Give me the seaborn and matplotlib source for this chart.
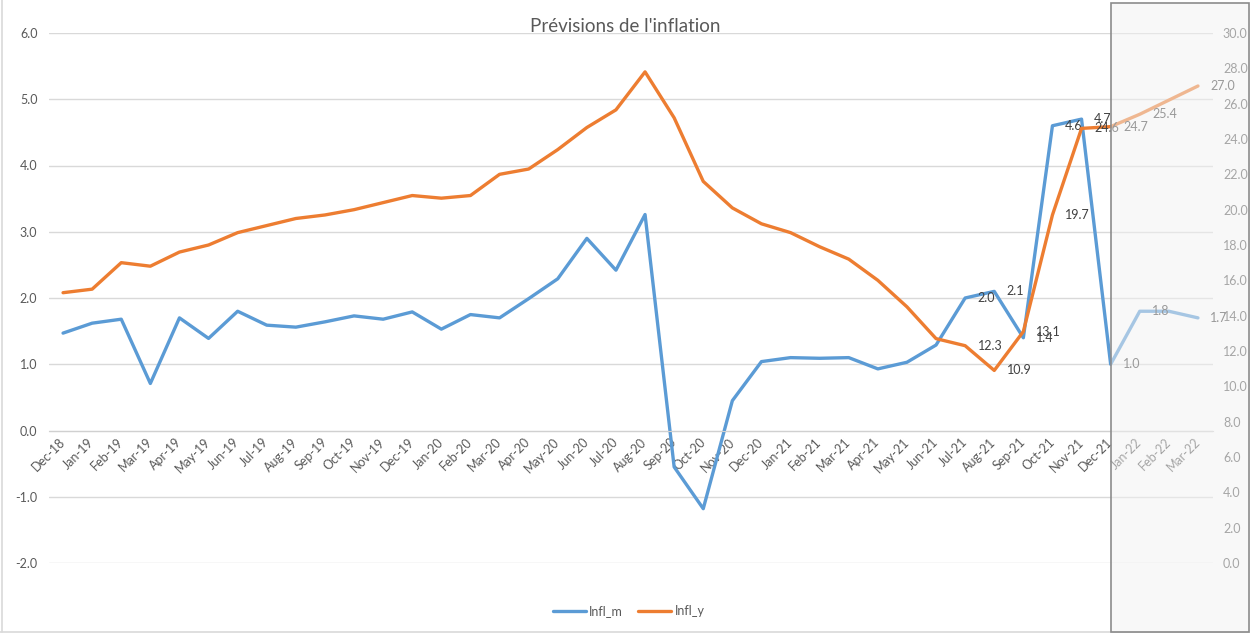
import numpy as np
import pandas as pd
import seaborn as sns
import matplotlib.pyplot as plt
from matplotlib.patches import Rectangle
from matplotlib.lines import Line2D

months = ['Dec-18', 'Jan-19', 'Feb-19', 'Mar-19', 'Apr-19', 'May-19', 'Jun-19', 'Jul-19',
          'Aug-19', 'Sep-19', 'Oct-19', 'Nov-19', 'Dec-19', 'Jan-20', 'Feb-20', 'Mar-20',
          'Apr-20', 'May-20', 'Jun-20', 'Jul-20', 'Aug-20', 'Sep-20', 'Oct-20', 'Nov-20',
          'Dec-20', 'Jan-21', 'Feb-21', 'Mar-21', 'Apr-21', 'May-21', 'Jun-21', 'Jul-21',
          'Aug-21', 'Sep-21', 'Oct-21', 'Nov-21', 'Dec-21', 'Jan-22', 'Feb-22', 'Mar-22']
infl_m = [1.47, 1.62, 1.68, 0.71, 1.70, 1.39, 1.80, 1.59, 1.56, 1.64, 1.73, 1.68, 1.79,
          1.53, 1.75, 1.70, 1.99, 2.29, 2.90, 2.42, 3.26, -0.55, -1.18, 0.45, 1.04,
          1.10, 1.09, 1.10, 0.93, 1.03, 1.29, 2.0, 2.1, 1.4, 4.6, 4.7, 1.0,
          1.8, 1.8, 1.7]
infl_y = [15.3, 15.5, 17.0, 16.8, 17.6, 18.0, 18.7, 19.1, 19.5, 19.7, 20.0, 20.4, 20.8,
          20.65, 20.8, 22.0, 22.3, 23.4, 24.65, 25.65, 27.8, 25.2, 21.6, 20.1, 19.2,
          18.7, 17.9, 17.2, 16.0, 14.5, 12.7, 12.3, 10.9, 13.1, 19.7, 24.6, 24.7,
          25.4, 26.2, 27.0]
labeled = ['Jul-21', 'Aug-21', 'Sep-21', 'Oct-21', 'Nov-21', 'Dec-21', 'Jan-22', 'Mar-22']

df = pd.DataFrame({'month': months, 'Infl_m': infl_m, 'Infl_y': infl_y})
df['pos'] = np.arange(len(df))

blue = '#5B9BD5'
orange = '#ED7D31'
grey_txt = '#595959'

sns.set_style('white')
plt.rcParams['font.family'] = ['Lato', 'DejaVu Sans']

W, H = 1250, 635
fig = plt.figure(figsize=(12.5, 6.35), dpi=100)
ax = fig.add_axes([48.5 / W, 1 - 563 / H, (1212.5 - 48.5) / W, (563 - 33) / H])
ax2 = ax.twinx()

sns.lineplot(data=df, x='pos', y='Infl_m', ax=ax, color=blue, lw=2.4)
sns.lineplot(data=df, x='pos', y='Infl_y', ax=ax2, color=orange, lw=2.4)

# axes
ax.set_xlim(-0.5, len(months) - 0.5)
ax.set_ylim(-2, 6)
ax.set_yticks(np.arange(-2, 6.1, 1))
ax.set_yticklabels([f'{v:.1f}' for v in np.arange(-2, 6.1, 1)])
ax2.set_ylim(0, 30)
ax2.set_yticks(np.arange(0, 30.1, 2))
ax2.set_yticklabels([f'{v:.1f}' for v in np.arange(0, 30.1, 2)])
ax.set_xticks(df['pos'])
ax.set_xticks(np.arange(-0.5, len(months), 1), minor=True)
ax.set_xticklabels(months)
ax.set_xlabel('')
ax.set_ylabel('')
ax2.set_ylabel('')

ax.grid(axis='y', color='#D9D9D9', lw=1)
ax.set_axisbelow(True)
for s in ['left', 'right', 'top']:
    ax.spines[s].set_visible(False)
for s in ['left', 'right', 'top', 'bottom']:
    ax2.spines[s].set_visible(False)
ax.spines['bottom'].set_position(('data', 0))
ax.spines['bottom'].set_color('#D0D0D0')

ax.tick_params(axis='x', which='major', length=0, pad=7, labelsize=9, labelcolor=grey_txt)
ax.tick_params(axis='x', which='minor', length=5, color='#D0D0D0', direction='out')
ax.tick_params(axis='y', length=0, pad=8, labelsize=9, labelcolor=grey_txt)
ax2.tick_params(axis='y', length=0, pad=7.5, labelsize=9, labelcolor=grey_txt)
for lab in ax.get_xticklabels():
    lab.set_rotation(45)
    lab.set_ha('right')
    lab.set_va('center')
    lab.set_rotation_mode('anchor')

# data labels
for _, r in df[df['month'].isin(labeled)].iterrows():
    ax.annotate(f"{r['Infl_m']:.1f}", (r['pos'], r['Infl_m']), xytext=(9, 0),
                textcoords='offset points', ha='left', va='center', fontsize=9, color='#404040')
    ax2.annotate(f"{r['Infl_y']:.1f}", (r['pos'], r['Infl_y']), xytext=(9, 0),
                 textcoords='offset points', ha='left', va='center', fontsize=9, color='#404040')

fig.text(0.5, 1 - 27 / H, "Prévisions de l'inflation", ha='center', va='center',
         fontsize=13.5, color=grey_txt)

handles = [Line2D([], [], color=blue, lw=2.4), Line2D([], [], color=orange, lw=2.4)]
leg = fig.legend(handles, ['Infl_m', 'Infl_y'], loc='center', bbox_to_anchor=(0.503, 1 - 611 / H),
                 ncol=2, frameon=False, fontsize=9, handlelength=2.6, handletextpad=0.3,
                 columnspacing=1.2)
for t in leg.get_texts():
    t.set_color(grey_txt)

# chart border
fig.add_artist(Line2D([2 / W, 2 / W], [1 - 632 / H, 1], transform=fig.transFigure,
                      color='#D9D9D9', lw=1.2))
fig.add_artist(Line2D([0, 1], [1 - 632 / H, 1 - 632 / H], transform=fig.transFigure,
                      color='#D9D9D9', lw=1.2))

# forecast shading
x0 = 1111 / W
fig.add_artist(Rectangle((x0, 1 - 632 / H), 1 - x0, (632 - 3) / H, transform=fig.transFigure,
                         facecolor='#F2F2F2', alpha=0.5, edgecolor='none', zorder=10))
fig.add_artist(Rectangle((x0, 1 - 632 / H), 1 - x0 - 0.001, (632 - 3) / H, transform=fig.transFigure,
                         facecolor='none', edgecolor='#8C8C8C', lw=1.2, zorder=11))

fig.savefig('out.png', dpi=100)
